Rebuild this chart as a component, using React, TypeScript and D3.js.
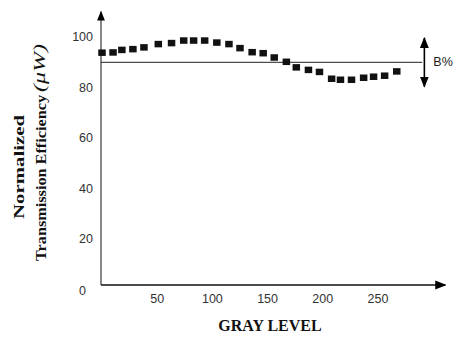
import React from "react";
import * as d3 from "d3";

// gray level (x) and normalized transmission efficiency (y)
const grayLevels = [0, 10, 18, 28, 38, 51, 63, 74, 83, 93, 104, 115, 125, 136, 146, 156, 167, 176, 187, 197, 208, 216, 226, 237, 246, 256, 267];
const efficiency = [93.6, 93.7, 94.7, 95.0, 95.7, 97.0, 97.4, 98.4, 98.4, 98.4, 97.6, 97.0, 95.4, 93.8, 93.4, 91.7, 90.0, 87.8, 86.8, 86.0, 83.3, 82.9, 82.9, 83.7, 84.1, 84.5, 86.2];

const xTicks = [50, 100, 150, 200, 250];
const yTicks = [0, 20, 40, 60, 80, 100];

const refLevel = 90;
const bandTop = 100;
const bandBottom = 80;
const bandLabel = "B%";

const xTitle = "GRAY LEVEL";
const yTitle1 = "Normalized";
const yTitle2 = "Transmission Efficiency";
const yUnit = "(\u03BCW)";

export default function App() {
  const width = 462;
  const height = 338;

  const x = d3.scaleLinear().domain([0, 250]).range([102, 378]);
  const y = d3.scaleLinear().domain([0, 100]).range([290, 37]);

  const points = grayLevels.map((g, i) => ({ g, v: efficiency[i] }));

  const base = y(2);
  const x0 = x(0) - 1;
  const xEnd = x(311);
  const yEnd = y(110);
  const bx = x(292);
  const size = 7.5;

  return (
    <svg width={width} height={height} style={{ position: "absolute", left: 0, top: 0, background: "#fff" }}>
      <defs>
        <marker id="ah" viewBox="0 0 10 10" refX="9" refY="5" markerWidth="7" markerHeight="7" orient="auto-start-reverse">
          <path d="M0,1 L10,5 L0,9 z" fill="#000" />
        </marker>
      </defs>

      {/* axes */}
      <line x1={x0} y1={base} x2={x0} y2={yEnd} stroke="#555" strokeWidth={1.4} markerEnd="url(#ah)" />
      <line x1={x0} y1={base} x2={xEnd} y2={base} stroke="#111" strokeWidth={1.6} markerEnd="url(#ah)" />

      {/* reference line and band arrow */}
      <line x1={x0} y1={y(refLevel)} x2={x(290)} y2={y(refLevel)} stroke="#222" strokeWidth={1} />
      <line x1={bx} y1={y(bandTop) + 1} x2={bx} y2={y(bandBottom) - 1} stroke="#000" strokeWidth={1.6}
        markerStart="url(#ah)" markerEnd="url(#ah)" />
      <text x={bx + 9} y={y(refLevel) + 4} fontFamily="Liberation Sans, sans-serif" fontSize={12.5} fill="#222">{bandLabel}</text>

      {/* y tick labels */}
      {yTicks.map(t => (
        <text key={t} x={t === 0 ? 86 : 93} y={t === 0 ? y(t) + 5 : y(t) + 4} textAnchor="end"
          fontFamily="Liberation Sans, sans-serif" fontSize={12.5} fill="#333">{t}</text>
      ))}

      {/* x tick labels */}
      {xTicks.map(t => (
        <text key={t} x={x(t)} y={303} textAnchor="middle"
          fontFamily="Liberation Sans, sans-serif" fontSize={12.5} fill="#333">{t}</text>
      ))}

      {/* data squares */}
      {points.map((p, i) => (
        <rect key={i} x={x(p.g) - size / 2} y={y(p.v) - size / 2} width={size} height={size - 1} fill="#111" />
      ))}

      {/* titles */}
      <text x={270} y={331} textAnchor="middle" fontFamily="Liberation Serif, serif" fontWeight="bold" fontSize={16} fill="#111">{xTitle}</text>
      <text transform={`translate(24,219) rotate(-90)`} textLength={104} lengthAdjust="spacingAndGlyphs"
        fontFamily="Liberation Serif, serif" fontWeight="bold" fontSize={15} fill="#111">{yTitle1}</text>
      <text transform={`translate(46,261) rotate(-90)`} textLength={166} lengthAdjust="spacingAndGlyphs"
        fontFamily="Liberation Serif, serif" fontWeight="bold" fontSize={14} fill="#111">{yTitle2}</text>
      <text transform={`translate(45,92) rotate(-90)`} textLength={48} lengthAdjust="spacingAndGlyphs"
        fontFamily="Liberation Serif, serif" fontStyle="italic" fontSize={17} fill="#111">{yUnit}</text>
    </svg>
  );
}
